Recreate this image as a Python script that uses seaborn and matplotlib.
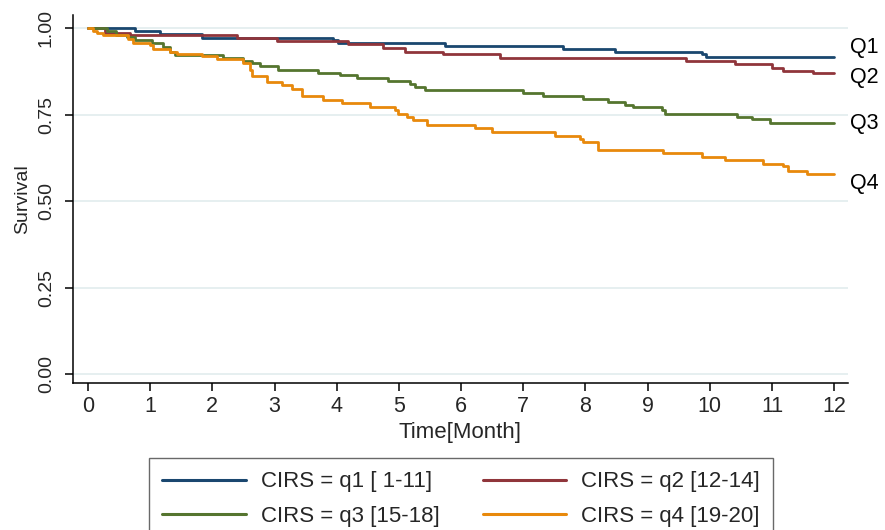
import pandas as pd
import matplotlib
matplotlib.use("Agg")
import matplotlib.pyplot as plt
import seaborn as sns

# Kaplan-Meier step points (time in months, survival)
q1_time = [0, 0.76, 1.16, 1.83, 3.94, 4.02, 5.74, 7.64, 8.48, 9.88, 9.94, 12]
q1_surv = [1.0, 0.990, 0.983, 0.972, 0.965, 0.956, 0.949, 0.940, 0.932, 0.924, 0.915, 0.915]

q2_time = [0, 0.27, 0.68, 2.4, 3.04, 4.18, 4.75, 5.1, 5.71, 6.63, 9.62, 10.41, 11.0, 11.17, 11.66, 12]
q2_surv = [1.0, 0.986, 0.980, 0.970, 0.963, 0.953, 0.941, 0.931, 0.924, 0.914, 0.904, 0.895, 0.885, 0.877, 0.869, 0.869]

q3_time = [0, 0.3, 0.45, 0.62, 0.75, 1.03, 1.2, 1.32, 1.4, 2.17, 2.5, 2.64, 2.77, 3.05, 3.7, 4.05,
           4.33, 4.82, 5.18, 5.26, 5.42, 6.99, 7.32, 7.96, 8.36, 8.64, 8.77, 9.23, 9.28, 10.44,
           10.68, 10.97, 12]
q3_surv = [1.0, 0.990, 0.980, 0.973, 0.965, 0.956, 0.946, 0.932, 0.922, 0.912, 0.905, 0.898, 0.890,
           0.880, 0.871, 0.863, 0.855, 0.847, 0.838, 0.830, 0.821, 0.813, 0.804, 0.795, 0.787,
           0.777, 0.771, 0.762, 0.753, 0.744, 0.736, 0.727, 0.727]

q4_time = [0, 0.08, 0.15, 0.24, 0.64, 0.72, 1.0, 1.04, 1.32, 1.43, 1.83, 2.07, 2.49, 2.6, 2.64, 2.88,
           3.12, 3.28, 3.44, 3.78, 4.09, 4.54, 4.94, 4.99, 5.13, 5.23, 5.45, 6.22, 6.5, 7.51, 7.91,
           7.96, 8.2, 9.25, 9.88, 10.25, 10.86, 11.18, 11.26, 11.56, 12]
q4_surv = [1.0, 0.991, 0.986, 0.980, 0.967, 0.958, 0.951, 0.938, 0.932, 0.925, 0.919, 0.910, 0.898,
           0.880, 0.861, 0.845, 0.835, 0.823, 0.803, 0.792, 0.784, 0.773, 0.763, 0.753, 0.744,
           0.734, 0.720, 0.710, 0.700, 0.689, 0.680, 0.670, 0.649, 0.638, 0.628, 0.618, 0.607,
           0.600, 0.588, 0.577, 0.577]

groups = ["CIRS = q1 [ 1-11]", "CIRS = q2 [12-14]", "CIRS = q3 [15-18]", "CIRS = q4 [19-20]"]
end_labels = ["Q1", "Q2", "Q3", "Q4"]
end_label_y = [0.945, 0.858, 0.725, 0.552]
colors = ["#1a476f", "#90353b", "#55752f", "#e8890c"]

frames = []
for g, t, s in zip(groups, [q1_time, q2_time, q3_time, q4_time],
                   [q1_surv, q2_surv, q3_surv, q4_surv]):
    frames.append(pd.DataFrame({"time": t, "survival": s, "group": g}))
df = pd.concat(frames, ignore_index=True)

sns.set_theme(style="white")
plt.rcParams["font.family"] = ["Liberation Sans", "DejaVu Sans"]

fig = plt.figure(figsize=(8.85, 5.3), dpi=100)
ax = fig.add_axes([0.0825, 0.277, 0.8755, 0.6947])

# grid lines first so curves sit on top
for yv in [0, 0.25, 0.5, 0.75, 1.0]:
    ax.axhline(yv, color="#e6eff0", lw=1.4, zorder=0)

sns.lineplot(data=df, x="time", y="survival", hue="group", hue_order=groups,
             palette=colors, estimator=None, sort=False, drawstyle="steps-post",
             lw=2.0, ax=ax)

handles, labels = ax.get_legend_handles_labels()
ax.get_legend().remove()

for lab, yv in zip(end_labels, end_label_y):
    ax.text(12.26, yv, lab, fontsize=15.5, va="center", ha="left", color="black", clip_on=False)

ax.set_xlim(-0.241, 12.22)
ax.set_ylim(-0.026, 1.0376)
ax.set_xticks(range(0, 13))
ax.set_yticks([0, 0.25, 0.5, 0.75, 1.0])
ax.set_yticklabels(["0.00", "0.25", "0.50", "0.75", "1.00"])
plt.setp(ax.get_yticklabels(), rotation=90, va="center")

ax.set_xlabel("Time[Month]", fontsize=16, labelpad=4)
ax.set_ylabel("Survival", fontsize=14, labelpad=5)
ax.tick_params(axis="x", labelsize=15.5, length=6, width=1.1, pad=3, direction="out",
               bottom=True, color="black")
ax.tick_params(axis="y", labelsize=14, length=6, width=1.1, pad=7, direction="out",
               left=True, color="black")

sns.despine(ax=ax)
for sp in ["left", "bottom"]:
    ax.spines[sp].set_color("black")
    ax.spines[sp].set_linewidth(1.1)

# row-wise order: q1 q2 / q3 q4
order = [0, 2, 1, 3]
leg = fig.legend([handles[i] for i in order], [labels[i] for i in order],
                 loc="upper center", bbox_to_anchor=(0.521, 0.1358), borderaxespad=0,
                 ncol=2, fontsize=16, frameon=True, fancybox=False, handlelength=3.75,
                 handletextpad=0.68, columnspacing=1.95, labelspacing=0.6, borderpad=0.6)
leg.get_frame().set_edgecolor("#444444")
leg.get_frame().set_linewidth(1.0)
for line in leg.get_lines():
    line.set_linewidth(2.2)

fig.savefig("out.png", dpi=100)
